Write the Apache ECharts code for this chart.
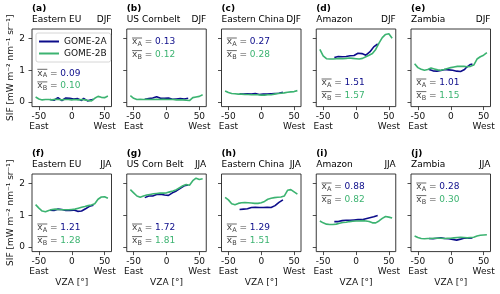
<!DOCTYPE html>
<html>
<head>
<meta charset="utf-8">
<script src="https://cdn.jsdelivr.net/npm/echarts@6/dist/echarts.min.js"></script>
<style>
html, body { margin: 0; padding: 0; background: #fff; }
#main { width: 500px; height: 294px; }
</style>
</head>
<body>
<div id="main"></div>
<script>
// panel labels and text
var panelIds = ['(a)', '(b)', '(c)', '(d)', '(e)', '(f)', '(g)', '(h)', '(i)', '(j)'];
var regions = ['Eastern EU', 'US Cornbelt', 'Eastern China', 'Amazon', 'Zambia',
               'Eastern EU', 'US Corn Belt', 'Eastern China', 'Amazon', 'Zambia'];
var seasons = ['DJF', 'DJF', 'DJF', 'DJF', 'DJF', 'JJA', 'JJA', 'JJA', 'JJA', 'JJA'];
var meanA = ['0.09', '0.13', '0.27', '1.51', '1.01', '1.21', '1.72', '1.29', '0.88', '0.28'];
var meanB = ['0.10', '0.12', '0.28', '1.57', '1.15', '1.28', '1.81', '1.51', '0.82', '0.30'];
// where the mean text sits in each panel
var notePos = ['mid', 'up', 'up', 'low', 'low', 'low', 'low', 'low', 'up', 'up'];

// viewing zenith angles (negative = East)
var vzaA = [-33, -30, -27, -24, -21, -18, -15, -12, -9, -6, -3, 0, 3, 6, 9, 12, 15, 18, 21, 24, 27, 30, 33];
var vzaB = [-55, -50, -45, -40, -35, -30, -25, -20, -15, -10, -5, 0, 5, 10, 15, 20, 25, 30, 35, 40, 45, 50, 55];
var xTicks = [-50, 0, 50];
var yTicks = [0, 1, 2];

// SIF, GOME-2A
var sifA = [
  [0.08, 0.12, 0.06, 0.10, 0.14, 0.09, 0.05, 0.11, 0.13, 0.08, 0.12, 0.07, 0.10, 0.06, 0.11, 0.09, 0.05, 0.12, 0.08, 0.04, 0.10, 0.07, 0.09],
  [0.09, 0.10, 0.11, 0.12, 0.13, 0.15, 0.17, 0.14, 0.12, 0.10, 0.12, 0.11, 0.13, 0.10, 0.09, 0.12, 0.10, 0.13, 0.11, 0.12, 0.10, 0.13, 0.12],
  [0.26, 0.27, 0.25, 0.27, 0.26, 0.28, 0.25, 0.26, 0.27, 0.25, 0.24, 0.26, 0.25, 0.23, 0.25, 0.24, 0.26, 0.25, 0.27, 0.26, 0.28, 0.30, 0.31],
  [1.40, 1.41, 1.43, 1.41, 1.42, 1.44, 1.43, 1.42, 1.45, 1.47, 1.46, 1.50, 1.53, 1.50, 1.52, 1.50, 1.47, 1.50, 1.57, 1.65, 1.73, 1.78, 1.82],
  [1.02, 1.00, 0.98, 0.99, 0.97, 0.98, 0.99, 0.98, 1.02, 1.03, 1.01, 1.03, 1.00, 0.98, 0.97, 0.98, 0.96, 0.97, 1.02, 1.09, 1.14, 1.18, 1.19],
  [1.16, 1.18, 1.15, 1.17, 1.19, 1.16, 1.18, 1.17, 1.15, 1.16, 1.15, 1.17, 1.16, 1.14, 1.12, 1.10, 1.13, 1.15, 1.20, 1.25, 1.28, 1.30, 1.31],
  [1.55, 1.57, 1.60, 1.62, 1.60, 1.63, 1.65, 1.64, 1.66, 1.65, 1.63, 1.64, 1.62, 1.66, 1.70, 1.73, 1.76, 1.80, 1.84, 1.88, 1.92, 1.93, 1.95],
  [1.18, 1.17, 1.19, 1.18, 1.20, 1.22, 1.24, 1.23, 1.25, 1.27, 1.24, 1.26, 1.24, 1.27, 1.25, 1.26, 1.24, 1.28, 1.30, 1.35, 1.40, 1.45, 1.48],
  [0.80, 0.81, 0.80, 0.82, 0.83, 0.82, 0.84, 0.85, 0.84, 0.86, 0.85, 0.87, 0.86, 0.88, 0.86, 0.87, 0.89, 0.88, 0.92, 0.96, 0.95, 0.98, 0.99],
  [0.27, 0.28, 0.26, 0.27, 0.28, 0.27, 0.29, 0.28, 0.27, 0.28, 0.26, 0.25, 0.24, 0.23, 0.22, 0.23, 0.25, 0.27, 0.29, 0.30, 0.28, 0.30, 0.29]
];

// SIF, GOME-2B
var sifB = [
  [0.16, 0.10, 0.07, 0.08, 0.08, 0.07, 0.09, 0.08, 0.07, 0.08, 0.08, 0.07, 0.08, 0.07, 0.08, 0.07, 0.05, 0.04, 0.12, 0.18, 0.15, 0.14, 0.19],
  [0.20, 0.12, 0.08, 0.09, 0.08, 0.09, 0.08, 0.08, 0.09, 0.08, 0.09, 0.08, 0.08, 0.08, 0.07, 0.07, 0.07, 0.06, 0.05, 0.14, 0.16, 0.18, 0.23],
  [0.35, 0.30, 0.27, 0.26, 0.25, 0.25, 0.24, 0.24, 0.23, 0.23, 0.23, 0.22, 0.22, 0.23, 0.23, 0.25, 0.27, 0.28, 0.29, 0.31, 0.32, 0.33, 0.36],
  [1.65, 1.45, 1.36, 1.35, 1.35, 1.36, 1.37, 1.36, 1.37, 1.38, 1.37, 1.36, 1.35, 1.37, 1.42, 1.47, 1.52, 1.65, 1.85, 2.02, 2.12, 2.14, 2.00],
  [1.20, 1.08, 1.03, 1.00, 1.02, 1.07, 1.04, 1.01, 1.00, 1.02, 1.05, 1.08, 1.10, 1.12, 1.12, 1.12, 1.11, 1.12, 1.16, 1.35, 1.42, 1.47, 1.55],
  [1.33, 1.22, 1.13, 1.11, 1.15, 1.18, 1.19, 1.18, 1.17, 1.17, 1.17, 1.18, 1.19, 1.22, 1.25, 1.27, 1.30, 1.32, 1.36, 1.50, 1.57, 1.58, 1.53],
  [1.80, 1.70, 1.60, 1.56, 1.60, 1.63, 1.65, 1.67, 1.68, 1.69, 1.69, 1.70, 1.73, 1.76, 1.80, 1.86, 1.92, 1.96, 1.94, 2.08, 2.16, 2.12, 2.14],
  [1.56, 1.48, 1.36, 1.33, 1.37, 1.39, 1.40, 1.39, 1.38, 1.37, 1.37, 1.39, 1.43, 1.50, 1.53, 1.55, 1.56, 1.57, 1.60, 1.78, 1.80, 1.73, 1.66],
  [0.82, 0.76, 0.72, 0.71, 0.71, 0.72, 0.75, 0.77, 0.78, 0.80, 0.81, 0.82, 0.82, 0.83, 0.82, 0.80, 0.76, 0.76, 0.82, 0.90, 0.96, 0.94, 0.91],
  [0.35, 0.30, 0.27, 0.26, 0.27, 0.27, 0.28, 0.28, 0.28, 0.27, 0.28, 0.28, 0.29, 0.30, 0.31, 0.30, 0.29, 0.30, 0.31, 0.35, 0.37, 0.38, 0.39]
];

var colA = '#0c0c8a';
var colB = '#3cb371';
var txt = '#111';
var font = 'DejaVu Sans';

var myChart = echarts.init(document.getElementById('main'));

var grids = [], xAxes = [], yAxes = [], series = [], graphics = [];

for (var i = 0; i < 10; i++) {
    var col = i % 5, row = Math.floor(i / 5);
    var gLeft = 32 + col * 94.75;
    var gTop = row ? 174 : 29;
    var gW = 79.5, gH = 77.6;

    grids.push({
        left: gLeft, top: gTop, width: gW, height: gH,
        show: true, borderColor: '#222', borderWidth: 0.9, backgroundColor: 'transparent'
    });

    xAxes.push({
        gridIndex: i, type: 'value', min: -60.5, max: 60.5,
        axisLine: { show: false, onZero: false },
        splitLine: { show: false },
        axisTick: { show: true, customValues: xTicks, length: 3.5, lineStyle: { color: '#222', width: 0.8 } },
        axisLabel: {
            customValues: xTicks, fontSize: 9, lineHeight: 10, margin: 5, color: txt, fontFamily: font,
            formatter: function (v) {
                if (v === -50) return '-50\nEast';
                if (v === 50) return '50\nWest';
                return String(v);
            }
        },
        name: row ? 'VZA [°]' : '',
        nameLocation: 'middle', nameGap: 27,
        nameTextStyle: { fontSize: 9, color: txt, fontFamily: font }
    });

    yAxes.push({
        gridIndex: i, type: 'value', min: -0.14, max: 2.29,
        axisLine: { show: false, onZero: false },
        splitLine: { show: false },
        axisTick: { show: true, customValues: yTicks, length: 3.5, lineStyle: { color: '#222', width: 0.8 } },
        axisLabel: { show: col === 0, customValues: yTicks, fontSize: 9, margin: 7, color: txt, fontFamily: font },
        name: col === 0 ? 'SIF [mW m⁻² nm⁻¹ sr⁻¹]' : '',
        nameLocation: 'middle', nameGap: 16,
        nameTextStyle: { fontSize: 9, color: txt, fontFamily: font }
    });

    series.push({
        name: 'GOME-2A', type: 'line', xAxisIndex: i, yAxisIndex: i,
        data: vzaA.map(function (x, k) { return [x, sifA[i][k]]; }),
        showSymbol: false, symbol: 'none', color: colA,
        lineStyle: { width: 1.6, color: colA }
    });
    series.push({
        name: 'GOME-2B', type: 'line', xAxisIndex: i, yAxisIndex: i,
        data: vzaB.map(function (x, k) { return [x, sifB[i][k]]; }),
        showSymbol: false, symbol: 'none', color: colB,
        lineStyle: { width: 1.6, color: colB }
    });

    // panel title
    graphics.push({ type: 'text', x: gLeft, y: gTop - 20.5,
        style: { text: panelIds[i], fontSize: 9, fontWeight: 'bold', fontFamily: font, fill: '#000', verticalAlign: 'middle', align: 'left' } });
    graphics.push({ type: 'text', x: gLeft, y: gTop - 9,
        style: { text: regions[i], fontSize: 9, fontFamily: font, fill: '#000', verticalAlign: 'middle', align: 'left' } });
    graphics.push({ type: 'text', x: gLeft + gW, y: gTop - 9,
        style: { text: seasons[i], fontSize: 9, fontFamily: font, fill: '#000', verticalAlign: 'middle', align: 'right' } });

    // mean values
    var off = notePos[i] === 'up' ? 13 : (notePos[i] === 'mid' ? 44.3 : 54);
    var means = [[meanA[i], 'A', colA], [meanB[i], 'B', colB]];
    for (var m = 0; m < 2; m++) {
        var cy = gTop + off + m * 12.6;
        var tx = gLeft + 5.3;
        graphics.push({ type: 'text', x: tx, y: cy,
            style: {
                text: '{x|x}{s|' + means[m][1] + '}{e| = }{v|' + means[m][0] + '}',
                verticalAlign: 'middle', align: 'left',
                rich: {
                    x: { fontSize: 9, lineHeight: 12, fontFamily: font, fill: '#444' },
                    s: { fontSize: 6.5, lineHeight: 7, verticalAlign: 'bottom', fontFamily: font, fill: '#444' },
                    e: { fontSize: 9, lineHeight: 12, fontFamily: font, fill: '#444' },
                    v: { fontSize: 9, lineHeight: 12, fontFamily: font, fill: means[m][2] }
                }
            } });
        graphics.push({ type: 'line',
            shape: { x1: tx, y1: cy - 4, x2: tx + 10, y2: cy - 4 },
            style: { stroke: '#444', lineWidth: 0.8 } });
    }
}

var option = {
    animation: false,
    backgroundColor: '#fff',
    grid: grids,
    xAxis: xAxes,
    yAxis: yAxes,
    legend: {
        data: ['GOME-2A', 'GOME-2B'],
        orient: 'vertical', left: 36, top: 33,
        itemWidth: 20, itemHeight: 2, itemGap: 1, icon: 'rect',
        padding: [3, 4, 3, 3],
        backgroundColor: 'rgba(255,255,255,0.85)',
        borderColor: '#ccc', borderWidth: 0.8, borderRadius: 2,
        selectedMode: false,
        textStyle: { fontSize: 9, lineHeight: 11, color: txt, fontFamily: font }
    },
    series: series,
    graphic: graphics
};

myChart.setOption(option);
</script>
</body>
</html>
